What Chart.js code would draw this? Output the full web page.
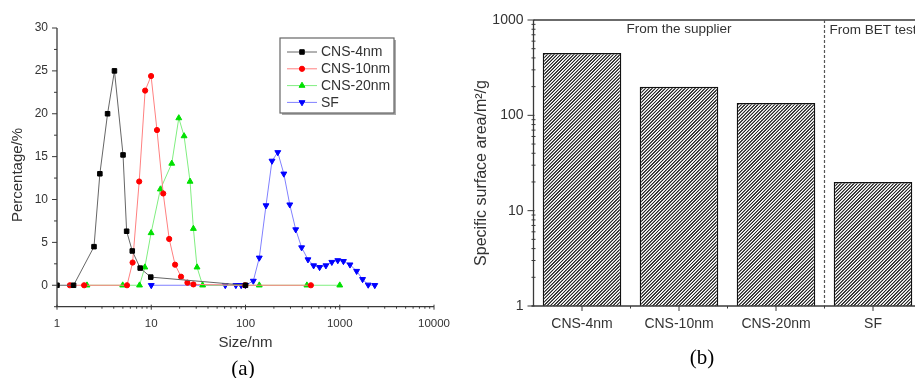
<!DOCTYPE html>
<html>
<head>
<meta charset="utf-8">
<script src="https://cdn.jsdelivr.net/npm/chart.js@4.4.1/dist/chart.umd.min.js"></script>
<style>
  html, body { margin:0; padding:0; background:#fff; width:915px; height:378px; overflow:hidden; position:relative; }
  canvas { position:absolute; top:0; }
  #ca { left:0; }
  #cb { left:460px; }
</style>
</head>
<body>
<canvas id="ca" width="460" height="378"></canvas>
<canvas id="cb" width="470" height="378"></canvas>
<script>
// ---------- Panel (a) data: particle size distribution ----------
const sizeCNS4  = [1, 1.5, 2.47, 2.85, 3.44, 4.07, 5.02, 5.48, 6.29, 7.63, 9.88, 100];
const pctCNS4   = [0, 0, 4.5, 13.0, 20.0, 25.0, 15.2, 6.3, 4.0, 2.0, 0.95, 0];
const sizeCNS10 = [1.37, 1.94, 5.53, 6.34, 7.45, 8.61, 9.96, 11.5, 13.4, 15.5, 17.9, 20.7, 24.2, 28.0, 99, 494];
const pctCNS10  = [0, 0, 0, 2.65, 12.1, 22.7, 24.4, 18.1, 10.7, 5.4, 2.4, 1.0, 0.3, 0.1, 0, 0];
const sizeCNS20 = [2.08, 4.98, 7.51, 8.55, 9.96, 12.5, 16.5, 19.6, 22.3, 25.8, 28.0, 30.6, 35.1, 140, 448, 1000];
const pctCNS20  = [0, 0, 0, 2.1, 6.1, 11.2, 14.2, 19.5, 17.4, 12.1, 6.6, 2.1, 0, 0, 0, 0];
const sizeSF    = [10, 61, 79, 90, 100, 121, 140, 165, 191, 220, 255, 295, 341, 394, 460, 528, 611, 713, 824, 953, 1094, 1284, 1510, 1746, 2004, 2354];
const pctSF     = [0, 0, 0, 0, 0, 0.5, 3.2, 9.3, 14.5, 15.5, 13.0, 9.4, 6.5, 4.4, 3.0, 2.3, 2.1, 2.3, 2.7, 2.9, 2.8, 2.4, 1.65, 0.7, 0.05, 0];
const seriesNames = ['CNS-4nm', 'CNS-10nm', 'CNS-20nm', 'SF'];
const sizeTicks = [1, 10, 100, 1000, 10000];
const pctTicks  = [0, 5, 10, 15, 20, 25, 30];

// ---------- Panel (b) data: specific surface area ----------
const samples   = ['CNS-4nm', 'CNS-10nm', 'CNS-20nm', 'SF'];
const surfaceArea = [450, 200, 135, 20];
const areaTicks = [1, 10, 100, 1000];
const groupNotes = ['From the supplier', 'From BET test'];

const SANS = "'Liberation Sans', Arial, Helvetica, sans-serif";
const SERIF = "'Liberation Serif', 'Times New Roman', serif";

function pts(xs, ys){ return xs.map((x,i)=>({x:x, y:ys[i]})); }
function seg(ctx,x1,y1,x2,y2){ ctx.beginPath(); ctx.moveTo(x1,y1); ctx.lineTo(x2,y2); ctx.stroke(); }

const styleA = [
  {line:'#666666', mark:'#000000', style:'rect', radius:3.2, rot:0},
  {line:'#ff8080', mark:'#ff0000', style:'circle', radius:2.6, rot:0},
  {line:'#80ee80', mark:'#00e000', style:'triangle', radius:3.4, rot:0},
  {line:'#8080ff', mark:'#0000ff', style:'triangle', radius:3.4, rot:180}
];
const xsA = [sizeCNS4, sizeCNS10, sizeCNS20, sizeSF];
const ysA = [pctCNS4, pctCNS10, pctCNS20, pctSF];

const decorA = {
  id:'decorA',
  afterDraw(chart){
    const {ctx, chartArea:ca, scales:{x,y}} = chart;
    ctx.save();
    ctx.strokeStyle='#3a3a3a'; ctx.lineWidth=1.3;
    seg(ctx, ca.left, y.getPixelForValue(30), ca.left, ca.bottom);
    seg(ctx, ca.left-1, ca.bottom, ca.right, ca.bottom);
    ctx.lineWidth=1;
    for (let v=-2.5; v<=30.01; v+=2.5){
      const p=y.getPixelForValue(v);
      const major = Math.abs(v%5)<1e-6;
      seg(ctx, ca.left-(major?5:3), p, ca.left, p);
    }
    for (let d=1; d<=1000; d*=10){
      for (let m=1; m<=9; m++){
        const p=x.getPixelForValue(d*m);
        seg(ctx, p, ca.bottom-(m===1?2:0), p, ca.bottom+(m===1?3:2));
      }
    }
    const pe=x.getPixelForValue(10000);
    seg(ctx, pe, ca.bottom-2, pe, ca.bottom+3);
    // axis titles
    ctx.fillStyle='#333';
    ctx.font='15px '+SANS;
    ctx.textAlign='center'; ctx.textBaseline='middle';
    ctx.fillText('Size/nm', (ca.left+ca.right)/2, 343);
    ctx.save();
    ctx.translate(18, 175); ctx.rotate(-Math.PI/2);
    ctx.fillText('Percentage/%', 0, 0);
    ctx.restore();
    ctx.fillStyle='#000';
    ctx.font='21px '+SERIF;
    ctx.fillText('(a)', 243, 369);
    // legend
    const bx=280, by=38, bw=114, bh=75;
    ctx.fillStyle='#aaa'; ctx.fillRect(bx+2, by+2, bw, bh);
    ctx.fillStyle='#fff'; ctx.fillRect(bx, by, bw, bh);
    ctx.strokeStyle='#666'; ctx.lineWidth=1.2; ctx.strokeRect(bx, by, bw, bh);
    ctx.font='14px '+SANS; ctx.textAlign='left'; ctx.textBaseline='middle';
    seriesNames.forEach((n,i)=>{
      const yy = 52 + i*16.8;
      const s = styleA[i];
      ctx.strokeStyle=s.line; ctx.lineWidth=1;
      seg(ctx, 287, yy, 317, yy);
      ctx.fillStyle=s.mark; ctx.strokeStyle=s.mark;
      Chart.helpers.drawPoint(ctx, {pointStyle:s.style, radius:s.radius, rotation:s.rot, borderWidth:1}, 302, yy);
      ctx.fillStyle='#333';
      ctx.fillText(n, 321, yy+0.5);
    });
    ctx.restore();
  }
};

new Chart(document.getElementById('ca'), {
  type:'line',
  data:{
    datasets: seriesNames.map((n,i)=>({
      label:n,
      data: pts(xsA[i], ysA[i]),
      borderColor: styleA[i].line,
      borderWidth: 1,
      pointStyle: styleA[i].style,
      pointRotation: styleA[i].rot,
      pointRadius: styleA[i].radius,
      pointBackgroundColor: styleA[i].mark,
      pointBorderColor: styleA[i].mark,
      pointBorderWidth: 1,
      tension: 0,
      fill:false
    }))
  },
  options:{
    responsive:false, animation:false, devicePixelRatio:1,
    layout:{padding:{top:28, right:23, left:0, bottom:0}},
    plugins:{legend:{display:false}, tooltip:{enabled:false}},
    scales:{
      x:{
        type:'logarithmic', min:1, max:10000,
        afterBuildTicks: s => { s.ticks = sizeTicks.map(v=>({value:v})); },
        afterFit: s => { s.height = 71.3; },
        grid:{display:false, drawTicks:false}, border:{display:false},
        ticks:{ autoSkip:false, maxRotation:0, padding:10, color:'#333', font:{family:SANS, size:11.5}, callback: v => String(v) }
      },
      y:{
        type:'linear', min:-2.5, max:30,
        afterBuildTicks: s => { s.ticks = pctTicks.map(v=>({value:v})); },
        afterFit: s => { s.width = 57; },
        grid:{display:false, drawTicks:false}, border:{display:false},
        ticks:{ padding:9, color:'#333', font:{family:SANS, size:12}, callback: v => String(v) }
      }
    }
  },
  plugins:[decorA]
});

// ---------- Panel (b) ----------
function hatch(){
  const c=document.createElement('canvas'); c.width=10; c.height=10;
  const g=c.getContext('2d');
  g.fillStyle='#fff'; g.fillRect(0,0,10,10);
  g.strokeStyle='#2a2a2a'; g.lineWidth=3.6;
  g.beginPath();
  g.moveTo(-2,12); g.lineTo(12,-2);
  g.moveTo(-7,7); g.lineTo(7,-7);
  g.moveTo(3,17); g.lineTo(17,3);
  g.stroke();
  const p=document.getElementById('cb').getContext('2d').createPattern(c,'repeat');
  p.setTransform(new DOMMatrix().scale(0.33));
  return p;
}

const decorB = {
  id:'decorB',
  afterDraw(chart){
    const {ctx, chartArea:ca, scales:{x,y}} = chart;
    ctx.save();
    ctx.strokeStyle='#3a3a3a'; ctx.lineWidth=1.3;
    const top=y.getPixelForValue(1000);
    seg(ctx, ca.left, top, ca.left, ca.bottom);
    seg(ctx, ca.left-2, ca.bottom, ca.right, ca.bottom);
    seg(ctx, ca.left, top, ca.right+10, top);
    ctx.lineWidth=1;
    for (let d=1; d<=100; d*=10){
      for (let m=1; m<=9; m++){
        const p=y.getPixelForValue(d*m);
        if (m===1) seg(ctx, ca.left-6, p, ca.left+1, p);
        else seg(ctx, ca.left-2, p, ca.left+2, p);
      }
    }
    seg(ctx, ca.left-6, top, ca.left+1, top);
    const band = x.getPixelForValue(1)-x.getPixelForValue(0);
    samples.forEach((s,i)=>{
      const p=x.getPixelForValue(i);
      seg(ctx, p, ca.bottom, p, ca.bottom+5);
      seg(ctx, p+band/2, ca.bottom, p+band/2, ca.bottom+2.5);
    });
    // dashed separator
    const xs = (x.getPixelForValue(2)+x.getPixelForValue(3))/2;
    ctx.setLineDash([3,2]); ctx.strokeStyle='#555'; ctx.lineWidth=1.2;
    seg(ctx, xs, top, xs, ca.bottom);
    ctx.setLineDash([]);
    // notes
    ctx.fillStyle='#333'; ctx.font='13.5px '+SANS; ctx.textBaseline='middle';
    ctx.textAlign='center';
    ctx.fillText(groupNotes[0], (ca.left+xs)/2, 29.5);
    ctx.textAlign='left';
    ctx.fillText(groupNotes[1], xs+5, 30.5);
    // axis title
    ctx.font='16px '+SANS; ctx.textAlign='center';
    ctx.save();
    ctx.translate(21.5, 173); ctx.rotate(-Math.PI/2);
    ctx.fillText('Specific surface area/m\u00B2/g', 0, 0);
    ctx.restore();
    ctx.fillStyle='#000'; ctx.font='21px '+SERIF;
    ctx.fillText('(b)', 242, 358);
    ctx.restore();
  }
};

new Chart(document.getElementById('cb'), {
  type:'bar',
  data:{
    labels: samples,
    datasets:[{
      label:'Specific surface area',
      data: surfaceArea,
      backgroundColor: hatch(),
      borderColor:'#111',
      borderWidth:1.5,
      barPercentage:0.81,
      categoryPercentage:1.0
    }]
  },
  options:{
    responsive:false, animation:false, devicePixelRatio:1,
    layout:{padding:{top:20, right:8.5, left:0, bottom:0}},
    plugins:{legend:{display:false}, tooltip:{enabled:false}},
    scales:{
      x:{
        type:'category', offset:true,
        afterFit: s => { s.height = 72; },
        grid:{display:false, drawTicks:false}, border:{display:false},
        ticks:{ autoSkip:false, maxRotation:0, padding:10, color:'#333', font:{family:SANS, size:14} }
      },
      y:{
        type:'logarithmic', min:1, max:1000,
        afterBuildTicks: s => { s.ticks = areaTicks.map(v=>({value:v})); },
        afterFit: s => { s.width = 73.5; },
        grid:{display:false, drawTicks:false}, border:{display:false},
        ticks:{ padding:10, color:'#333', font:{family:SANS, size:14}, callback: v => String(v) }
      }
    }
  },
  plugins:[decorB]
});
</script>
</body>
</html>
